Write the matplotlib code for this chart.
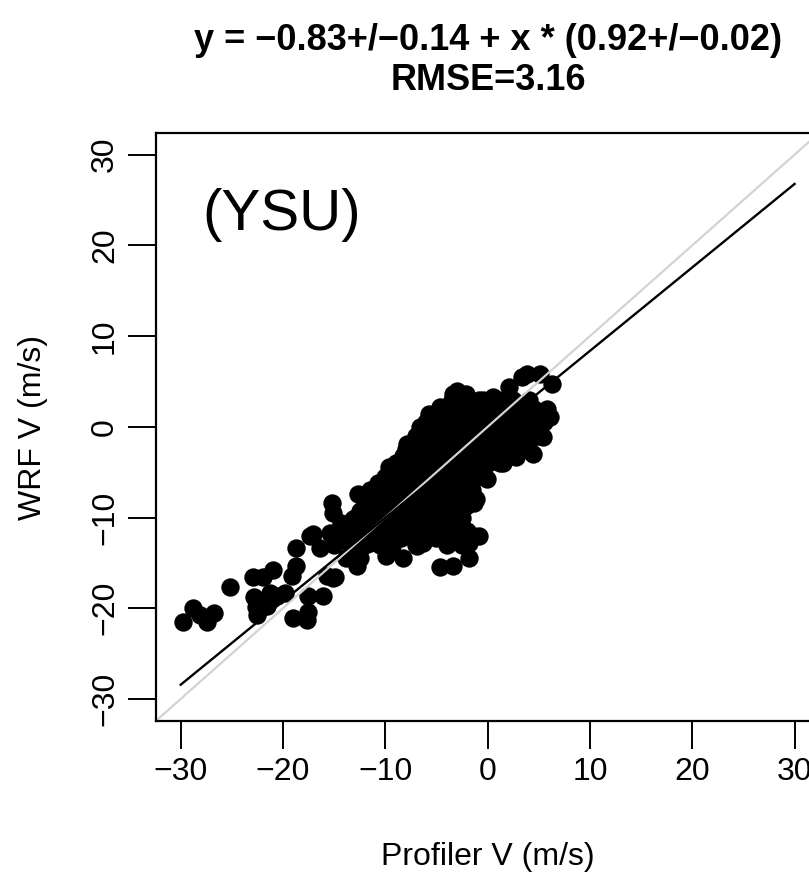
import matplotlib
matplotlib.use("Agg")
import matplotlib.pyplot as plt
from matplotlib import font_manager

# R-style scatter of WRF vs profiler meridional wind (YSU run)
names = {f.name for f in font_manager.fontManager.ttflist}
NARROW = "Liberation Sans Narrow" if "Liberation Sans Narrow" in names else "Liberation Sans"

# fit coefficients from the title
intercept = -0.83
slope = 0.92
title_line1 = "y = \u22120.83+/\u22120.14 + x * (0.92+/\u22120.02)"
title_line2 = "RMSE=3.16"
ticks = [-30, -20, -10, 0, 10, 20, 30]

# points (profiler V, WRF V), m/s
# tail and outer edge of the cloud
tail_x = [-29.8, -28.8, -28.1, -27.4, -26.7, -25.2, -22.9, -22.0, -21.0, -22.8,
          -22.6, -22.5, -21.6, -21.3, -20.6, -19.8, -19.1, -18.7, -17.6, -16.1,
          -19.0, -17.6, -17.7, -18.7, -17.4, -15.7, -14.9, -16.4, -15.4, -14.3,
          -13.8, -17.1, -15.2, -15.1, -12.7, -13.2, -14.2, -11.5, -11.2, -10.3,
          -9.6, -8.9, -7.8, -6.4, -5.7, -4.7, -3.4, -2.1, -0.8, 0.5,
          2.1, 3.4, 5.1, 6.3, 5.8, 6.1, 5.4, 4.4, 2.8, 1.2,
          -0.1, -1.1, -3.7, -5.0, -6.3, -0.8, -4.7, -3.4, -1.8, -1.3,
          -1.8, -2.4, -1.3, -2.1, -9.9, -8.3, -9.3, -6.9, -12.8, -12.5,
          -15.1, -3.0, -6.6, -7.9, 3.8]
tail_y = [-21.5, -20.0, -20.8, -21.5, -20.5, -17.7, -16.6, -16.6, -15.8, -18.8,
          -19.9, -20.8, -19.7, -18.3, -18.6, -18.3, -16.4, -15.3, -18.6, -18.6,
          -21.1, -20.4, -21.3, -13.4, -12.0, -16.4, -16.6, -13.4, -11.7, -10.6,
          -14.5, -11.8, -8.4, -9.5, -7.4, -10.2, -10.9, -12.8, -8.4, -7.3,
          -4.4, -5.8, -2.2, 0.0, 1.4, 2.2, 3.6, 3.6, 2.9, 3.3,
          4.4, 5.5, 5.8, 4.7, 1.4, 1.1, -1.1, -3.0, -3.3, -4.0,
          -5.8, -8.0, -10.9, -12.3, -12.8, -12.0, -15.5, -15.3, -14.5, -12.0,
          -12.8, -12.0, -8.4, -8.7, -14.2, -14.5, -13.1, -13.1, -15.3, -14.5,
          -16.7, 4.0, 0.0, -1.9, 5.8]

# filled core of the cloud
core_x = [-4.5, -3.0, -1.5, 0.0, 1.5, 3.0, 4.5, 5.8,
          -6.0, -4.5, -3.0, -1.5, 0.0, 1.5, 3.0, 4.5, 5.5,
          -7.0, -5.5, -4.0, -2.5, -1.0, 0.5, 2.0, 3.5, 5.0,
          -8.0, -6.5, -5.0, -3.5, -2.0, -0.5, 1.0, 2.5, 4.0,
          -9.0, -7.5, -6.0, -4.5, -3.0, -1.5, 0.0, 1.5,
          -10.0, -8.5, -7.0, -5.5, -4.0, -2.5, -1.0,
          -11.5, -10.0, -8.5, -7.0, -5.5, -4.0, -2.5, -1.5,
          -12.0, -10.5, -9.0, -7.5, -6.0, -4.5, -3.0,
          -13.0, -11.5, -10.0, -8.5, -7.0, -5.5, -4.0, -2.5,
          -14.0, -12.5, -11.0, -9.5, -8.0, -6.5, -5.0, -3.5, -2.0,
          -15.0, -13.5, -12.0, -10.5, -7.0, -4.0, -2.5]
core_y = [2.0, 2.0, 2.0, 2.0, 2.0, 2.0, 2.0, 2.0,
          0.5, 0.5, 0.5, 0.5, 0.5, 0.5, 0.5, 0.5, 0.5,
          -1.0, -1.0, -1.0, -1.0, -1.0, -1.0, -1.0, -1.0, -1.0,
          -2.5, -2.5, -2.5, -2.5, -2.5, -2.5, -2.5, -2.5, -2.5,
          -4.0, -4.0, -4.0, -4.0, -4.0, -4.0, -4.0, -4.0,
          -5.5, -5.5, -5.5, -5.5, -5.5, -5.5, -5.5,
          -7.0, -7.0, -7.0, -7.0, -7.0, -7.0, -7.0, -7.0,
          -8.5, -8.5, -8.5, -8.5, -8.5, -8.5, -8.5,
          -10.0, -10.0, -10.0, -10.0, -10.0, -10.0, -10.0, -10.0,
          -11.5, -11.5, -11.5, -11.5, -11.5, -11.5, -11.5, -11.5, -11.5,
          -13.0, -13.0, -13.0, -13.0, -13.0, -13.0, -13.0]

# second, staggered layer of the core
inner_x = [-3.5, -2.0, -0.5, 1.0, 2.5, 4.0,
           -5.25, -3.75, -2.25, -0.75, 0.75, 2.25, 3.75, 5.25,
           -6.25, -4.75, -3.25, -1.75, -0.25, 1.25, 2.75, 4.25,
           -7.25, -5.75, -4.25, -2.75, -1.25, 0.25, 1.75, 3.25,
           -8.25, -6.75, -5.25, -3.75, -2.25, -0.75, 0.75, 2.25,
           -9.25, -7.75, -6.25, -4.75, -3.25, -1.75, -0.5,
           -10.75, -9.25, -7.75, -6.25, -4.75, -3.25, -1.75,
           -11.75, -10.25, -8.75, -7.25, -5.75, -4.25, -2.75,
           -12.5, -11.0, -9.5, -8.0, -6.5, -5.0, -3.5,
           -13.5, -12.0, -10.5, -9.0, -7.5, -6.0, -4.5, -3.0,
           -14.5, -13.0, -11.5, -10.0, -8.5, -3.0]
inner_y = [3.0, 3.0, 3.0, 3.0, 3.0, 3.0,
           1.25, 1.25, 1.25, 1.25, 1.25, 1.25, 1.25, 1.25,
           -0.25, -0.25, -0.25, -0.25, -0.25, -0.25, -0.25, -0.25,
           -1.75, -1.75, -1.75, -1.75, -1.75, -1.75, -1.75, -1.75,
           -3.25, -3.25, -3.25, -3.25, -3.25, -3.25, -3.25, -3.25,
           -4.75, -4.75, -4.75, -4.75, -4.75, -4.75, -4.75,
           -6.25, -6.25, -6.25, -6.25, -6.25, -6.25, -6.25,
           -7.75, -7.75, -7.75, -7.75, -7.75, -7.75, -7.75,
           -9.25, -9.25, -9.25, -9.25, -9.25, -9.25, -9.25,
           -10.75, -10.75, -10.75, -10.75, -10.75, -10.75, -10.75, -10.75,
           -12.25, -12.25, -12.25, -12.25, -12.25, -12.25]

profiler_v = tail_x + core_x + inner_x
wrf_v = tail_y + core_y + inner_y

fig = plt.figure(figsize=(8.09, 8.80), dpi=100)
ax = fig.add_axes([0.193, 0.181, 0.8195, 0.668])
ax.set_xlim(-32.4, 32.4)
ax.set_ylim(-32.4, 32.4)

ax.scatter(profiler_v, wrf_v, s=175, c="black", linewidths=0, zorder=1)
ax.axline((0, 0), slope=1, color="#d3d3d3", lw=1.6, zorder=2)
fit_x = [ticks[0], ticks[-1]]
fit_y = [intercept + slope * v for v in fit_x]
ax.plot(fit_x, fit_y, color="black", lw=1.7, zorder=3)

ax.set_xticks(ticks)
ax.set_yticks(ticks)
ax.tick_params(direction="out", length=20, width=1.4, labelsize=23, pad=6)
for lab in ax.get_xticklabels() + ax.get_yticklabels():
    lab.set_family(NARROW)
for lab in ax.get_yticklabels():
    lab.set_rotation(90)
    lab.set_va("center")
for sp in ax.spines.values():
    sp.set_linewidth(1.6)

ax.text(-27.9, 23.4, "(YSU)", fontsize=42, family="Liberation Sans", ha="left", va="center")

fig.text(488 / 809, 1 - 41 / 880, title_line1, ha="center", va="center",
         fontsize=26, weight="bold", family=NARROW)
fig.text(488 / 809, 1 - 80 / 880, title_line2, ha="center", va="center",
         fontsize=26, weight="bold", family=NARROW)
fig.text(488 / 809, 1 - 857 / 880, "Profiler V (m/s)", ha="center", va="center",
         fontsize=23, family=NARROW)
fig.text(33 / 809, 1 - 427 / 880, "WRF V (m/s)", ha="center", va="center",
         rotation=90, fontsize=23, family=NARROW)

fig.savefig("out.png", dpi=100)
